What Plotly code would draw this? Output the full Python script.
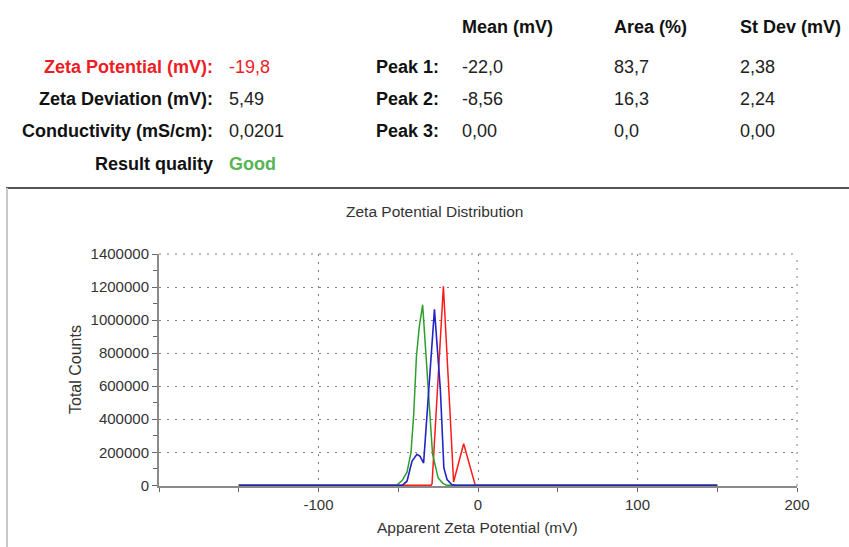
import plotly.graph_objects as go

# ---------------- data ----------------
red_x = [-150, -29.5, -28.8, -25.7, -21.7, -18.4, -15.3, -9.0, -1.7, 150]
red_y = [0, 0, 10000, 560000, 1205000, 600000, 20000, 252000, 0, 0]

green_x = [-150, -51, -47.5, -44.5, -42.0, -40.3, -38.6, -36.8, -34.7, -31.5, -28.5, -25.0, -22.0, -19.5, 150]
green_y = [0, 0, 30000, 80000, 200000, 430000, 780000, 960000, 1092000, 630000, 190000, 45000, 12000, 0, 0]

blue_x = [-150, -47.5, -44.5, -41.4, -38.3, -36.3, -34.1, -31.0, -27.3, -23.6, -22.5, -21.4, -19.4, -16.5, -14.0, 150]
blue_y = [0, 0, 25000, 145000, 188000, 175000, 135000, 580000, 1065000, 580000, 300000, 105000, 35000, 5000, 0, 0]

x_ticks = [-100, 0, 100, 200]
y_ticks = [0, 200000, 400000, 600000, 800000, 1000000, 1200000, 1400000]

summary_labels = ["Zeta Potential (mV):", "Zeta Deviation (mV):", "Conductivity (mS/cm):", "Result quality"]
summary_values = ["-19,8", "5,49", "0,0201", "Good"]
peak_labels = ["Peak 1:", "Peak 2:", "Peak 3:"]
peak_headers = ["Mean (mV)", "Area (%)", "St Dev (mV)"]
peak_mean = ["-22,0", "-8,56", "0,00"]
peak_area = ["83,7", "16,3", "0,0"]
peak_std = ["2,38", "2,24", "0,00"]

# ---------------- layout geometry ----------------
W, H = 849, 547
L, R, T, B = 159, 52, 254, 61
PW, PH = W - L - R, H - T - B


def fx(px):
    return (px - L) / PW


def fy(py):
    return (H - B - py) / PH


FONT = "Liberation Sans, Arial, sans-serif"
GRID = dict(color="#7f7f7f", width=1, dash="2px,6px")

fig = go.Figure()
fig.add_trace(go.Scatter(x=red_x, y=red_y, mode="lines", line=dict(color="#ff1a1a", width=1.5), showlegend=False))
fig.add_trace(go.Scatter(x=green_x, y=green_y, mode="lines", line=dict(color="#2e9e2e", width=1.5), showlegend=False))
fig.add_trace(go.Scatter(x=blue_x, y=blue_y, mode="lines", line=dict(color="#2323c8", width=1.6), showlegend=False))

fig.update_layout(
    width=W, height=H,
    margin=dict(l=L, r=R, t=T, b=B),
    paper_bgcolor="white", plot_bgcolor="white",
    font=dict(family=FONT, color="#333333", size=15),
    showlegend=False,
)

fig.update_xaxes(
    range=[-200, 200], tickvals=x_ticks, ticktext=[str(v) for v in x_ticks],
    showgrid=True, gridcolor="#7f7f7f", griddash="2px,6px", gridwidth=1,
    showline=True, linecolor="#8a8a8a", linewidth=2, layer="below traces",
    ticks="outside", ticklen=4, tickcolor="#666666", tickwidth=1,
    minor=dict(tickvals=[-200, -150, -50, 50, 150], ticks="outside", ticklen=4, tickcolor="#666666", showgrid=False),
    tickfont=dict(size=15, color="#333333"), zeroline=False,
)
fig.update_yaxes(
    range=[-4000, 1400000], tickvals=y_ticks, ticktext=[str(v) for v in y_ticks],
    showgrid=True, gridcolor="#7f7f7f", griddash="2px,6px", gridwidth=1,
    showline=True, linecolor="#8a8a8a", linewidth=2, layer="below traces",
    ticks="outside", ticklen=5, tickcolor="#666666", tickwidth=1,
    minor=dict(tickvals=[100000, 300000, 500000, 700000, 900000, 1100000, 1300000],
               ticks="outside", ticklen=4, tickcolor="#666666", showgrid=False),
    tickfont=dict(size=15, color="#333333"), zeroline=False,
)

ann = []
# chart titles
ann.append(dict(text="Zeta Potential Distribution", x=fx(434), y=fy(212), xref="paper", yref="paper",
                showarrow=False, xanchor="center", yanchor="middle", font=dict(size=15.5, color="#333333")))
ann.append(dict(text="Apparent Zeta Potential (mV)", x=fx(477), y=fy(527), xref="paper", yref="paper",
                showarrow=False, xanchor="center", yanchor="middle", font=dict(size=15.5, color="#333333")))
ann.append(dict(text="Total Counts", x=fx(75), y=fy(370), xref="paper", yref="paper", textangle=-90,
                showarrow=False, xanchor="center", yanchor="middle", font=dict(size=16, color="#333333")))

# summary table
TF = 18
row_y = [67, 99, 131, 164]
label_colors = ["#ee1c25", "#111111", "#111111", "#111111"]
value_colors = ["#ee1c25", "#222222", "#222222", "#55b555"]
for i, (lab, val) in enumerate(zip(summary_labels, summary_values)):
    ann.append(dict(text="<b>" + lab + "</b>", x=fx(215), y=fy(row_y[i]), xref="paper", yref="paper",
                    showarrow=False, xanchor="right", yanchor="middle", font=dict(size=TF, color=label_colors[i])))
    vtxt = "<b>" + val + "</b>" if i == 3 else val
    ann.append(dict(text=vtxt, x=fx(227), y=fy(row_y[i]), xref="paper", yref="paper",
                    showarrow=False, xanchor="left", yanchor="middle", font=dict(size=TF, color=value_colors[i])))

col_x = [460, 612, 738]
for hdr, cx in zip(peak_headers, col_x):
    ann.append(dict(text="<b>" + hdr + "</b>", x=fx(cx), y=fy(27), xref="paper", yref="paper",
                    showarrow=False, xanchor="left", yanchor="middle", font=dict(size=TF, color="#111111")))
for i, pl in enumerate(peak_labels):
    yy = fy(row_y[i])
    ann.append(dict(text="<b>" + pl + "</b>", x=fx(441), y=yy, xref="paper", yref="paper",
                    showarrow=False, xanchor="right", yanchor="middle", font=dict(size=TF, color="#111111")))
    for vals, cx in zip([peak_mean, peak_area, peak_std], col_x):
        ann.append(dict(text=vals[i], x=fx(cx), y=yy, xref="paper", yref="paper",
                        showarrow=False, xanchor="left", yanchor="middle", font=dict(size=TF, color="#222222")))

fig.update_layout(annotations=ann)

# gridlines on the plot-area edges (top at 1400000, right at 200)
fig.add_shape(type="line", xref="paper", yref="paper", x0=0, x1=1, y0=1, y1=1, line=GRID, layer="below")
fig.add_shape(type="line", xref="paper", yref="paper", x0=1, x1=1, y0=0, y1=1, line=GRID, layer="below")

# frame around chart region
fig.add_shape(type="line", xref="paper", yref="paper", x0=fx(6), x1=fx(849), y0=fy(188), y1=fy(188),
              line=dict(color="#555555", width=2))
fig.add_shape(type="line", xref="paper", yref="paper", x0=fx(7), x1=fx(7), y0=fy(188), y1=fy(547),
              line=dict(color="#c8c8c8", width=2))

fig.write_html("out.html")
